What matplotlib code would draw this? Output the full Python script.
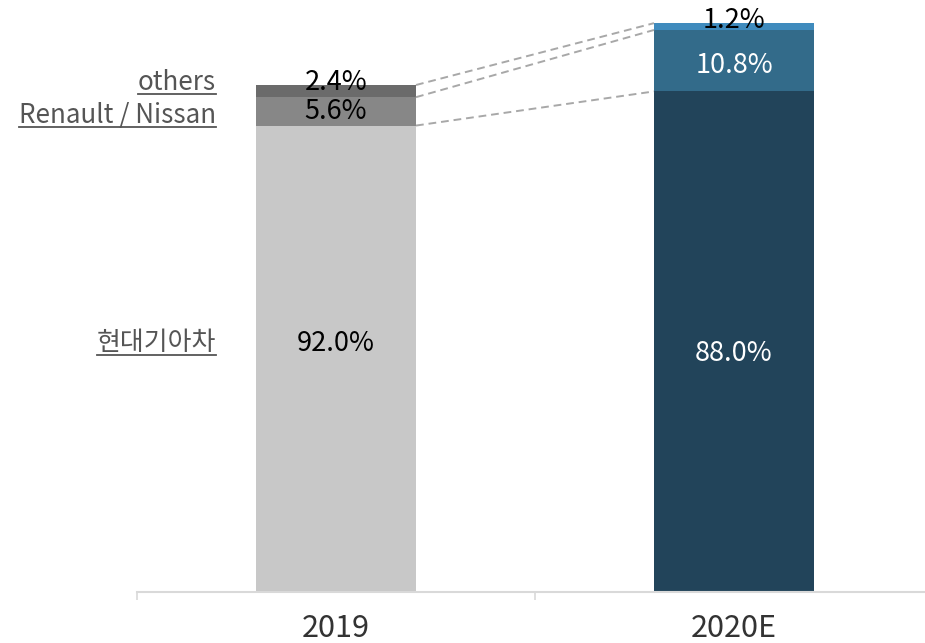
import matplotlib
matplotlib.use("Agg")
import matplotlib.pyplot as plt
from matplotlib.lines import Line2D

plt.rcParams['font.family'] = ['Noto Sans CJK KR', 'DejaVu Sans']

# data
years = ["2019", "2020E"]
totals = [100.0, 112.2]  # relative market size (bar height)
segments = ["현대기아차", "Renault / Nissan", "others"]
shares_2019 = [92.0, 5.6, 2.4]
shares_2020 = [88.0, 10.8, 1.2]
colors_2019 = ["#c8c8c8", "#878787", "#6b6b6b"]
colors_2020 = ["#22445a", "#336b8a", "#3f8bbd"]
text_2019 = ["black", "black", "black"]
text_2020 = ["white", "white", "black"]

W, H = 925, 643
fig = plt.figure(figsize=(W / 100, H / 100), dpi=100)
# axes: category boundaries at x=137 .. 933 px, baseline at y=592 px
ax = fig.add_axes([137 / W, (H - 592) / H, 796 / W, 592 / H])
ax.set_xlim(-0.5, 1.5)
ax.set_ylim(0, 592 / 5.07)
bw = 160 / 398

all_shares = [shares_2019, shares_2020]
all_colors = [colors_2019, colors_2020]
all_text = [text_2019, text_2020]
# vertical nudge of the labels (data units)
nudge = [[3.0, 0.0, 0.0], [-2.3, -1.0, 0.0]]
tops = []
for i, year in enumerate(years):
    bottom = 0
    seg_tops = []
    for j, s in enumerate(all_shares[i]):
        h = s / 100 * totals[i]
        ax.bar(i, h, bw, bottom=bottom, color=all_colors[i][j], linewidth=0)
        yc = bottom + h / 2 + nudge[i][j]
        if j == 2:
            yc = bottom + h + 0.5
        ax.text(i, yc, f"{s:.1f}%", ha="center", va="center", fontsize=19.5,
                color=all_text[i][j])
        bottom += h
        seg_tops.append(bottom)
    tops.append(seg_tops)

# dashed connectors between bars
for j in range(3):
    ax.plot([bw / 2, 1 - bw / 2], [tops[0][j], tops[1][j]], ls=(0, (4, 2.5)),
            color="#a8a8a8", lw=1.4)

# axis style
for s in ["top", "right", "left"]:
    ax.spines[s].set_visible(False)
ax.spines["bottom"].set_color("#d9d9d9")
ax.spines["bottom"].set_linewidth(1.5)
ax.set_yticks([])
ax.set_xticks([-0.5, 0.5, 1.5])
ax.set_xticklabels([])
ax.tick_params(axis="x", direction="out", length=6, color="#d9d9d9", width=1.2)
for i, year in enumerate(years):
    ax.text(i, -0.062, year, transform=ax.get_xaxis_transform(), ha="center",
            va="center", fontsize=22, color="#333333")

# left labels with underline
label_y = [343, 115, 82]
labels = []
for j, name in enumerate(segments):
    t = fig.text(216 / W, 1 - label_y[j] / H, name, ha="right", va="center",
                 fontsize=18.7, color="#555555")
    labels.append(t)

fig.canvas.draw()
r = fig.canvas.get_renderer()
for t in labels:
    bb = t.get_window_extent(renderer=r)
    y = bb.y0 + 2
    fig.add_artist(Line2D([bb.x0 / W, bb.x1 / W], [y / H, y / H],
                          transform=fig.transFigure, color="#555555", lw=1.3))

fig.savefig("out.png", dpi=100)
